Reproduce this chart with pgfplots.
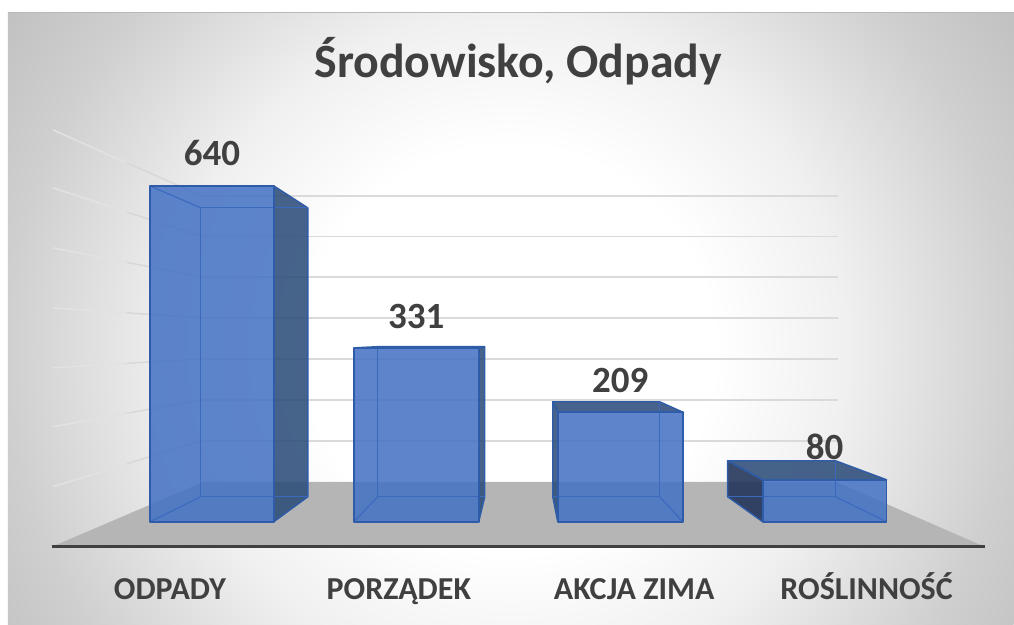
\documentclass[border=0pt]{standalone}
\usepackage{fontspec}
\setmainfont{Carlito}
\usepackage{pgfplots}
\pgfplotsset{compat=1.18}
\definecolor{bgA}{HTML}{F0F0F0}
\definecolor{bgB}{HTML}{CFCFCF}
\definecolor{bgC}{HTML}{C2C2C2}
\definecolor{txt}{HTML}{404040}
\definecolor{floorc}{HTML}{B5B5B5}
\definecolor{gridc}{HTML}{DADADA}
\definecolor{wallc}{HTML}{E2E2E2}
\definecolor{wallb}{HTML}{D8D8D8}
\definecolor{frontc}{HTML}{4472C4}
\definecolor{sidec}{HTML}{294A78}
\definecolor{deepc}{HTML}{1F3258}
\definecolor{edgec}{HTML}{2F5CA8}
\definecolor{thinc}{HTML}{3A69BE}
\pgfdeclareradialshading{bgshade}{\pgfpoint{0bp}{0bp}}{%
  color(0bp)=(white); color(8.5bp)=(white); color(14bp)=(bgA);
  color(21bp)=(bgB); color(25bp)=(bgC); color(50bp)=(bgC)}
\pgfplotsset{
  grid line/.style={draw=gridc,line width=1.5pt,no marks,forget plot},
  wall line/.style={draw=wallc,line width=1.5pt,no marks,forget plot},
  wall near/.style={draw=wallb,line width=1.5pt,no marks,forget plot},
  front face/.style={fill=frontc,fill opacity=0.86,draw=none,no marks,forget plot},
  side face/.style={fill=sidec,fill opacity=0.86,draw=edgec,line width=1.4pt,line join=round,no marks,forget plot},
  deep face/.style={fill=deepc,fill opacity=0.88,draw=edgec,line width=1.4pt,line join=round,no marks,forget plot},
  thin edge/.style={draw=thinc,line width=1.1pt,no marks,forget plot},
  strong edge/.style={draw=edgec,line width=1.8pt,line join=round,no marks,forget plot},
}
\begin{document}
\begin{tikzpicture}
\begin{axis}[
  scale only axis, width=1014pt, height=625pt,
  xmin=0, xmax=1014, ymin=-196.19, ymax=994.29,
  hide axis, clip=false,
]
% background
\fill[white] (axis cs:0,-196.19) rectangle (axis cs:1014,994.29);
\begin{scope}
\clip (axis cs:8,-196.19) rectangle (axis cs:1014,971.4);
\shade[shading=bgshade] ([shift={(-600pt,-600pt)}]axis cs:510,327.6) rectangle ([shift={(600pt,600pt)}]axis cs:510,327.6);
\end{scope}
\addplot[draw=black!28,line width=1pt,no marks,forget plot] coordinates {(8,971.4)(1014,971.4)};
% back wall grid lines
\addplot[grid line] coordinates {(202,620.95)(838,620.95)};
\addplot[grid line] coordinates {(202,543.8)(838,543.8)};
\addplot[grid line] coordinates {(202,466.7)(838,466.7)};
\addplot[grid line] coordinates {(202,388.6)(838,388.6)};
\addplot[grid line] coordinates {(202,310.5)(838,310.5)};
\addplot[grid line] coordinates {(202,232.4)(838,232.4)};
\addplot[grid line] coordinates {(202,154.3)(838,154.3)};
% side wall grid lines: far half pale, near half darker
\addplot[wall line] coordinates {(53,746.7)(127,683.8)};
\addplot[wall near] coordinates {(127,683.8)(202,620.95)};
\addplot[wall line] coordinates {(53,636.2)(127,590)};
\addplot[wall near] coordinates {(127,590)(202,543.8)};
\addplot[wall line] coordinates {(53,521.9)(127,494.3)};
\addplot[wall near] coordinates {(127,494.3)(202,466.7)};
\addplot[wall line] coordinates {(53,407.6)(127,398.1)};
\addplot[wall near] coordinates {(127,398.1)(202,388.6)};
\addplot[wall line] coordinates {(53,293.3)(127,301.9)};
\addplot[wall near] coordinates {(127,301.9)(202,310.5)};
\addplot[wall line] coordinates {(53,181)(127,206.7)};
\addplot[wall near] coordinates {(127,206.7)(202,232.4)};
\addplot[wall line] coordinates {(53,66.7)(127,110.5)};
\addplot[wall near] coordinates {(127,110.5)(202,154.3)};
% floor
\addplot[fill=floorc,draw=none,no marks,forget plot] coordinates {(204,76.2)(836,76.2)(985,-47.6)(52,-47.6)} --cycle;
\addplot[draw=txt,line width=2.6pt,no marks,forget plot] coordinates {(52,-47.6)(985,-47.6)};
% bar 1: ODPADY 640
\addplot[side face] coordinates {(274,640)(308,598.1)(308,47.6)(274,0)} --cycle;
\addplot[front face] coordinates {(150,0)(274,0)(274,640)(150,640)} --cycle;
\addplot[thin edge] coordinates {(201,47.6)(308,47.6)};
\addplot[thin edge] coordinates {(201,598.1)(308,598.1)};
\addplot[thin edge] coordinates {(201,47.6)(201,598.1)};
\addplot[thin edge] coordinates {(150,640)(201,598.1)};
\addplot[thin edge] coordinates {(150,0)(201,47.6)};
\addplot[strong edge] coordinates {(150,0)(274,0)(274,640)(150,640)} --cycle;
% bar 2: PORZADEK 331
\addplot[side face] coordinates {(479,331)(485,333.3)(485,47.6)(479,0)} --cycle;
\addplot[front face] coordinates {(354,0)(479,0)(479,331)(354,331)} --cycle;
\addplot[thin edge] coordinates {(378,47.6)(485,47.6)};
\addplot[thin edge] coordinates {(378,47.6)(378,333.3)};
\addplot[thin edge] coordinates {(354,0)(378,47.6)};
\addplot[strong edge] coordinates {(354,0)(479,0)(479,331)(354,331)} --cycle;
\addplot[strong edge] coordinates {(354,331)(378,333.3)(485,333.3)};
% bar 3: AKCJA ZIMA 209
\addplot[side face] coordinates {(553,228.6)(558,209)(558,0)(553,47.6)} --cycle;
\addplot[side face] coordinates {(553,228.6)(660,228.6)(683,209)(558,209)} --cycle;
\addplot[front face] coordinates {(558,0)(683,0)(683,209)(558,209)} --cycle;
\addplot[thin edge] coordinates {(553,47.6)(660,47.6)};
\addplot[thin edge] coordinates {(660,47.6)(660,228.6)};
\addplot[thin edge] coordinates {(660,47.6)(683,0)};
\addplot[strong edge] coordinates {(558,0)(683,0)(683,209)(558,209)} --cycle;
% bar 4: ROSLINNOSC 80
\addplot[deep face] coordinates {(728,116.2)(763,80)(763,0)(728,47.6)} --cycle;
\addplot[side face] coordinates {(728,116.2)(836,116.2)(887,80)(763,80)} --cycle;
\addplot[front face] coordinates {(763,0)(887,0)(887,80)(763,80)} --cycle;
\addplot[thin edge] coordinates {(728,47.6)(836,47.6)};
\addplot[thin edge] coordinates {(836,47.6)(836,116.2)};
\addplot[thin edge] coordinates {(836,47.6)(887,0)};
\addplot[strong edge] coordinates {(763,0)(887,0)(887,80)(763,80)} --cycle;
% data labels
\addplot[draw=none,no marks,forget plot,
  nodes near coords,
  nodes near coords style={anchor=base,yshift=20pt,text=txt,inner sep=0pt,
    font=\fontsize{37}{44}\selectfont\bfseries,
    /pgf/number format/assume math mode=true},
] coordinates {(212,640)(416.5,331)(620.5,209)(825,80)};
% texts
\node[anchor=base,text=txt,inner sep=0pt,font=\fontsize{47.8}{56}\selectfont\bfseries] at (axis cs:518.5,845.7) {Środowisko, Odpady};
\foreach \x/\t in {170/ODPADY,399/PORZĄDEK,634.5/AKCJA ZIMA,867/ROŚLINNOŚĆ}{
  \edef\tmp{\noexpand\node[anchor=base,text=txt,inner sep=0pt,font=\noexpand\fontsize{32}{38}\noexpand\selectfont\noexpand\bfseries] at (axis cs:\x,-148) {\t};}
  \tmp
}
\end{axis}
\end{tikzpicture}
\end{document}
